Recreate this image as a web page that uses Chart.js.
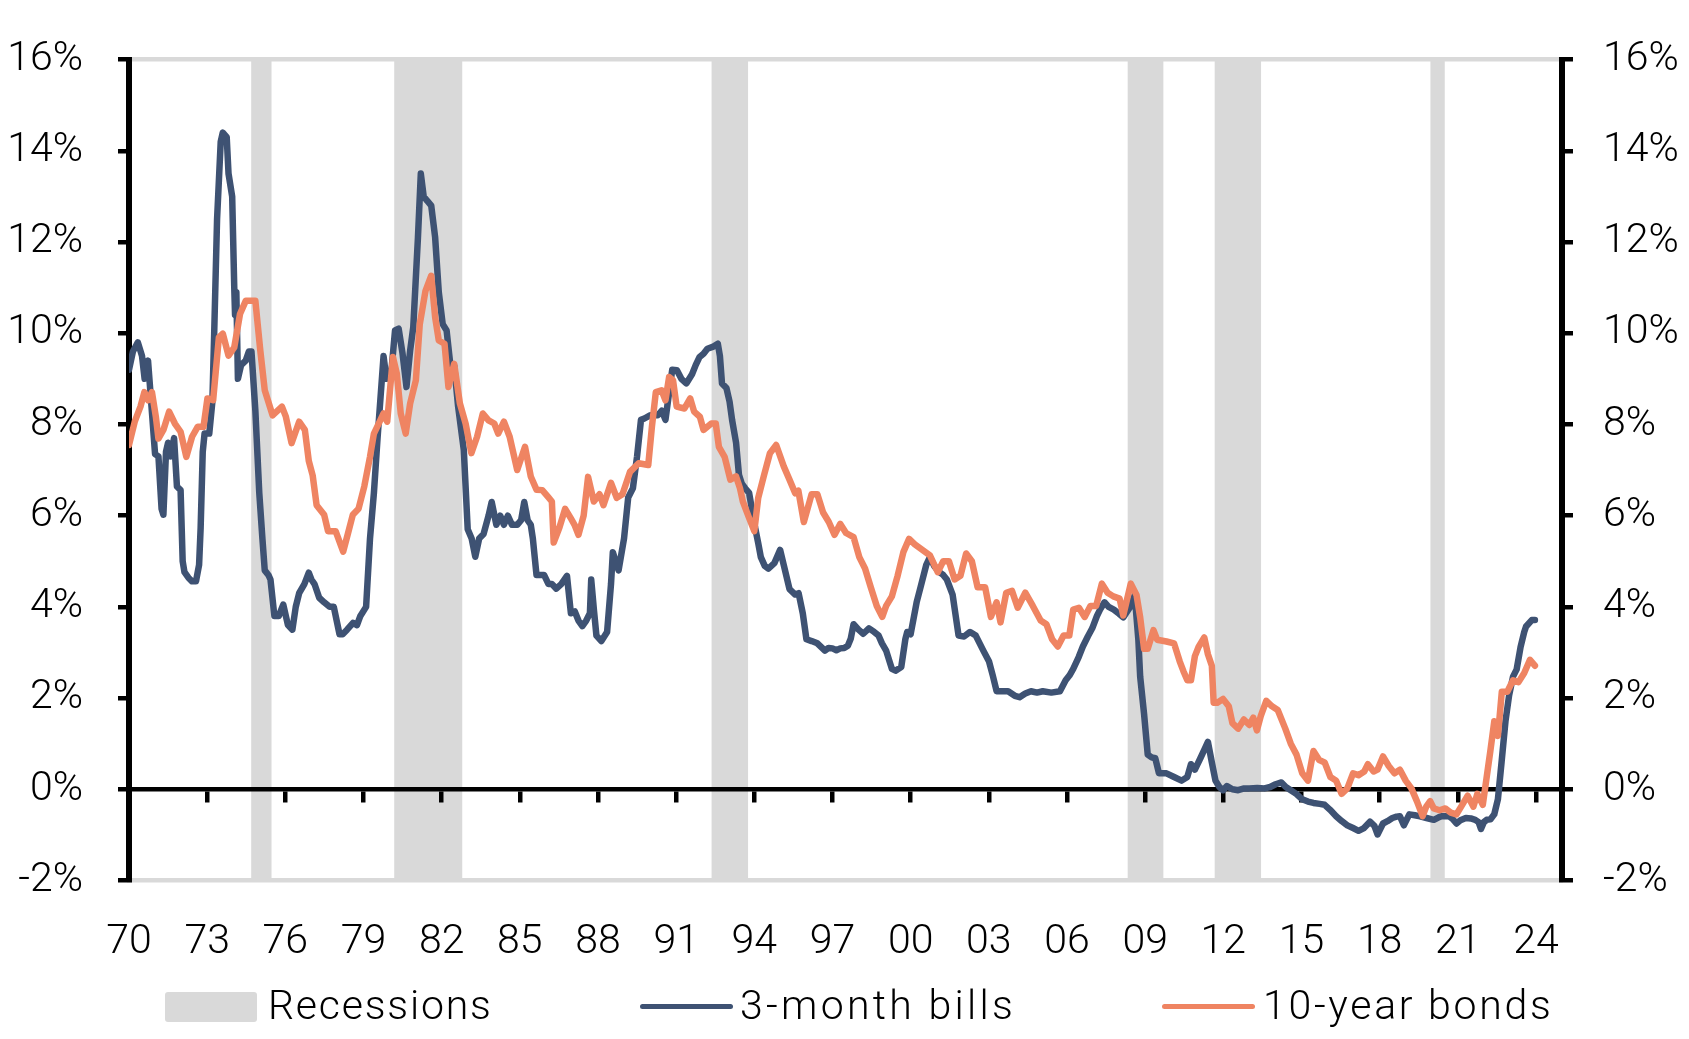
<!DOCTYPE html>
<html>
<head>
<meta charset="utf-8">
<title>3-month bills vs 10-year bonds</title>
<script src="https://cdn.jsdelivr.net/npm/chart.js@4.4.1/dist/chart.umd.min.js"></script>
<style>
  body { margin: 0; background: #fff; }
  #wrap { position: relative; width: 1689px; height: 1039px; font-family: Roboto, sans-serif; font-weight: 300; }
  #chart { position: absolute; left: 0; top: 0; }
  .key { position: absolute; }
  .key-box { top: 992px; width: 92px; height: 30px; border-radius: 3px; background: #d9d9d9; }
  .key-line { top: 1003.5px; width: 93px; height: 5px; border-radius: 2.5px; }
  .key-text { top: 985px; font-size: 41px; line-height: 41px; color: #000; white-space: nowrap; }
</style>
</head>
<body>
<div id="wrap">
  <canvas id="chart" width="1689" height="1039"></canvas>
  <div class="key key-box" style="left:165px"></div>
  <div class="key key-text" style="left:268px;letter-spacing:1.8px">Recessions</div>
  <div class="key key-line" style="left:640px;background:#3e5273"></div>
  <div class="key key-text" style="left:740px;letter-spacing:3.3px">3-month bills</div>
  <div class="key key-line" style="left:1162px;background:#ef8462"></div>
  <div class="key key-text" style="left:1263px;letter-spacing:2.7px">10-year bonds</div>
</div>
<script>
// recession periods (decimal years)
const recessionStarts = [1974.69, 1980.18, 1992.36, 2008.33, 2011.67, 2019.95];
const recessionEnds   = [1975.47, 1982.79, 1993.76, 2009.70, 2013.45, 2020.50];

// x-axis tick labels
const tickYears = [1970, 1973, 1976, 1979, 1982, 1985, 1988, 1991, 1994, 1997,
  2000, 2003, 2006, 2009, 2012, 2015, 2018, 2021, 2024];

// 3-month bills, %
const billsDates = [
  1970.0, 1970.15, 1970.34, 1970.5, 1970.6, 1970.73, 1970.85,
  1971.0, 1971.13, 1971.25, 1971.32, 1971.42, 1971.5, 1971.6, 1971.73, 1971.84, 1971.98,
  1972.06, 1972.13, 1972.28, 1972.42, 1972.57, 1972.69, 1972.75, 1972.83, 1972.9,
  1973.08, 1973.2, 1973.27, 1973.38, 1973.52, 1973.6, 1973.75, 1973.82, 1973.96,
  1974.04, 1974.07, 1974.12, 1974.18, 1974.3, 1974.48, 1974.6, 1974.7, 1974.85,
  1975.0, 1975.12, 1975.21, 1975.35, 1975.43, 1975.58, 1975.75, 1975.92,
  1976.1, 1976.27, 1976.4, 1976.53, 1976.73, 1976.9,
  1977.0, 1977.12, 1977.3, 1977.49, 1977.7, 1977.86,
  1978.08, 1978.2, 1978.37, 1978.6, 1978.75, 1978.88,
  1979.1, 1979.25, 1979.4, 1979.54, 1979.77, 1979.88,
  1980.06, 1980.21, 1980.35, 1980.5, 1980.65, 1980.79, 1980.91,
  1981.09, 1981.2, 1981.31, 1981.45, 1981.6, 1981.75, 1981.89,
  1982.04, 1982.19, 1982.33, 1982.48, 1982.63, 1982.85,
  1983.0, 1983.15, 1983.29, 1983.44, 1983.61, 1983.8, 1983.92,
  1984.1, 1984.25, 1984.39, 1984.54, 1984.7, 1984.9,
  1985.05, 1985.17, 1985.3, 1985.42, 1985.5, 1985.64, 1985.8, 1985.93,
  1986.1, 1986.23, 1986.4, 1986.59, 1986.81, 1986.96,
  1987.11, 1987.25, 1987.4, 1987.55, 1987.69, 1987.74, 1987.85, 1987.94,
  1988.13, 1988.35, 1988.5, 1988.57, 1988.79,
  1989.0, 1989.16, 1989.34, 1989.5, 1989.65, 1989.78,
  1990.0, 1990.29, 1990.45, 1990.59, 1990.73, 1990.85,
  1991.03, 1991.2, 1991.39, 1991.61, 1991.75, 1991.9,
  1992.05, 1992.2, 1992.4, 1992.6, 1992.68, 1992.76, 1992.93,
  1993.05, 1993.15, 1993.3, 1993.41, 1993.52, 1993.65, 1993.8,
  1994.03, 1994.15, 1994.25, 1994.4, 1994.54, 1994.77, 1994.99,
  1995.13, 1995.35, 1995.57, 1995.7, 1995.86,
  1996.0, 1996.2, 1996.42, 1996.6, 1996.71, 1996.85,
  1997.0, 1997.15, 1997.3, 1997.45, 1997.59, 1997.7, 1997.81,
  1998.0, 1998.18, 1998.4, 1998.6, 1998.77, 1998.9,
  1999.06, 1999.28, 1999.42, 1999.64, 1999.8, 1999.87,
  2000.0, 2000.23, 2000.38, 2000.6, 2000.74, 2000.9,
  2001.1, 2001.25, 2001.39, 2001.61, 2001.84,
  2002.05, 2002.28, 2002.5, 2002.79,
  2003.01, 2003.15, 2003.3, 2003.5, 2003.74,
  2004.0, 2004.18, 2004.4, 2004.62, 2004.85,
  2005.07, 2005.4, 2005.73, 2005.95,
  2006.1, 2006.24, 2006.45, 2006.61, 2006.8, 2006.97,
  2007.15, 2007.27, 2007.44, 2007.6, 2007.8,
  2008.0, 2008.16, 2008.45, 2008.6, 2008.74, 2008.81, 2008.96,
  2009.1, 2009.25, 2009.39, 2009.53, 2009.82,
  2010.11, 2010.4, 2010.62, 2010.76, 2010.91,
  2011.12, 2011.3, 2011.41, 2011.56, 2011.7, 2011.85, 2011.99,
  2012.14, 2012.35, 2012.57, 2012.8,
  2013.0, 2013.3, 2013.58, 2013.8,
  2014.01, 2014.23, 2014.4, 2014.59, 2014.8,
  2015.03, 2015.25, 2015.46, 2015.7, 2015.89,
  2016.1, 2016.33, 2016.55, 2016.76, 2016.98,
  2017.19, 2017.4, 2017.63, 2017.8, 2017.92,
  2018.13, 2018.3, 2018.49, 2018.65, 2018.78, 2018.93,
  2019.14, 2019.35, 2019.51, 2019.8,
  2020.08, 2020.25, 2020.37, 2020.66, 2020.8, 2020.95,
  2021.1, 2021.31, 2021.5, 2021.67, 2021.8, 2021.89,
  2022.0, 2022.11, 2022.25, 2022.4, 2022.54, 2022.68, 2022.83, 2022.97,
  2023.12, 2023.26, 2023.41, 2023.55, 2023.62, 2023.84, 2023.96
];
const billsRates = [
  9.2, 9.6, 9.8, 9.5, 9.0, 9.4, 8.5,
  7.35, 7.3, 6.15, 6.02, 7.4, 7.6, 7.3, 7.7, 6.64, 6.56,
  5.0, 4.76, 4.64, 4.56, 4.56, 4.92, 5.74, 7.4, 7.8,
  7.8, 8.5, 10.0, 12.5, 14.2, 14.4, 14.3, 13.5, 13.0,
  11.0, 10.4, 10.9, 9.0, 9.3, 9.4, 9.6, 9.6, 8.3,
  6.5, 5.5, 4.8, 4.7, 4.6, 3.8, 3.8, 4.05,
  3.6, 3.5, 4.0, 4.3, 4.5, 4.75,
  4.6, 4.5, 4.2, 4.1, 4.0, 4.0,
  3.4, 3.4, 3.5, 3.65, 3.6, 3.8,
  4.0, 5.5, 6.5, 7.7, 9.5, 9.0,
  9.1, 10.06, 10.1, 9.55, 8.82, 9.62, 10.13,
  12.1, 13.5, 13.0, 12.9, 12.8, 12.1, 10.9,
  10.2, 10.06, 9.33, 9.29, 8.4, 7.44,
  5.7, 5.5, 5.1, 5.5, 5.6, 6.0, 6.3,
  5.8, 6.0, 5.8, 6.0, 5.8, 5.8,
  5.9, 6.3, 5.9, 5.8, 5.5, 4.7, 4.7, 4.7,
  4.5, 4.5, 4.4, 4.5, 4.68, 3.86,
  3.9, 3.7, 3.58, 3.7, 3.86, 4.6, 3.9, 3.37,
  3.25, 3.45, 4.5, 5.2, 4.8,
  5.5, 6.4, 6.6, 7.3, 8.1, 8.13,
  8.2, 8.2, 8.3, 8.1, 8.7, 9.2,
  9.19, 9.0, 8.9, 9.1, 9.3, 9.48,
  9.55, 9.66, 9.7, 9.77, 9.5, 8.9, 8.8,
  8.5, 8.09, 7.6, 6.9, 6.7, 6.6, 6.5,
  5.74, 5.4, 5.09, 4.9, 4.84, 4.96, 5.25,
  4.92, 4.39, 4.27, 4.3, 3.86,
  3.29, 3.25, 3.2, 3.1, 3.04, 3.1,
  3.09, 3.05, 3.09, 3.1, 3.15, 3.3, 3.62,
  3.5, 3.41, 3.53, 3.45, 3.37, 3.2,
  3.04, 2.64, 2.6, 2.68, 3.3, 3.45,
  3.4, 4.1, 4.43, 4.92, 5.09, 4.9,
  4.76, 4.7, 4.6, 4.27, 3.37,
  3.35, 3.45, 3.37, 3.04,
  2.8, 2.5, 2.15, 2.15, 2.15,
  2.05, 2.02, 2.1, 2.15, 2.12,
  2.15, 2.12, 2.15, 2.39,
  2.5, 2.64, 2.9, 3.13, 3.35, 3.53,
  3.8, 3.94, 4.1, 4.0, 3.94,
  3.85, 3.77, 4.02, 4.26, 3.28, 2.47, 1.65,
  0.76, 0.7, 0.68, 0.35, 0.35,
  0.27, 0.19, 0.27, 0.55, 0.43,
  0.68, 0.9, 1.04, 0.59, 0.19, 0.05, -0.02,
  0.07, 0.0, -0.02, 0.02,
  0.02, 0.03, 0.02, 0.05,
  0.11, 0.15, 0.05, -0.02, -0.1,
  -0.22, -0.27, -0.3, -0.32, -0.34,
  -0.45, -0.59, -0.7, -0.79, -0.85,
  -0.91, -0.85, -0.71, -0.8, -0.99,
  -0.75, -0.7, -0.63, -0.6, -0.59, -0.79,
  -0.55, -0.57, -0.59, -0.63,
  -0.67, -0.62, -0.59, -0.59, -0.65, -0.75,
  -0.68, -0.63, -0.64, -0.67, -0.72, -0.87,
  -0.72, -0.67, -0.66, -0.55, -0.22, 0.59, 1.49, 2.06,
  2.47, 2.63, 3.12, 3.45, 3.57, 3.71, 3.71
];

// 10-year bonds, %
const bondsDates = [
  1970.0, 1970.22, 1970.44, 1970.59, 1970.73, 1970.88,
  1971.03, 1971.13, 1971.32, 1971.54, 1971.76, 1971.98,
  1972.2, 1972.42, 1972.64, 1972.86,
  1973.01, 1973.23, 1973.45, 1973.6, 1973.82,
  1974.04, 1974.26, 1974.48, 1974.85,
  1975.04, 1975.21, 1975.51, 1975.87,
  1976.02, 1976.24, 1976.53, 1976.75, 1976.9,
  1977.05, 1977.2, 1977.49, 1977.64, 1977.93,
  1978.22, 1978.4, 1978.59, 1978.81,
  1979.03, 1979.25, 1979.4, 1979.62, 1979.77, 1979.91,
  1980.13, 1980.28, 1980.43, 1980.62, 1980.79,
  1981.01, 1981.16, 1981.38, 1981.6, 1981.75, 1981.89,
  1982.11, 1982.26, 1982.48, 1982.7, 1982.92,
  1983.14, 1983.36, 1983.58, 1983.8,
  1984.02, 1984.17, 1984.39, 1984.61, 1984.9,
  1985.2, 1985.42, 1985.64, 1985.86,
  1986.1, 1986.23, 1986.3, 1986.52, 1986.74, 1986.96,
  1987.1, 1987.25, 1987.45, 1987.62, 1987.84,
  1988.06, 1988.21, 1988.5, 1988.72, 1988.94,
  1989.23, 1989.56, 1989.93,
  1990.07, 1990.22, 1990.44, 1990.59, 1990.73, 1990.88,
  1991.02, 1991.32, 1991.54, 1991.69, 1991.91,
  1992.05, 1992.35, 1992.52, 1992.64, 1992.86,
  1993.08, 1993.3, 1993.45, 1993.56, 1993.78,
  1994.0, 1994.15, 1994.37, 1994.6, 1994.84,
  1995.13, 1995.35, 1995.57, 1995.69, 1995.9,
  1996.2, 1996.42, 1996.64, 1996.86,
  1997.08, 1997.3, 1997.52, 1997.81,
  1998.03, 1998.25, 1998.47, 1998.7, 1998.91,
  1999.06, 1999.28, 1999.5, 1999.72, 1999.94,
  2000.16, 2000.45, 2000.74,
  2001.04, 2001.25, 2001.47, 2001.69, 2001.91,
  2002.13, 2002.35, 2002.57, 2002.86,
  2003.08, 2003.3, 2003.45, 2003.67, 2003.89,
  2004.11, 2004.4, 2004.69, 2004.99,
  2005.21, 2005.43, 2005.65, 2005.87,
  2006.09, 2006.24, 2006.46, 2006.68, 2006.9,
  2007.12, 2007.34, 2007.56, 2007.78,
  2008.02, 2008.16, 2008.45, 2008.67, 2008.81, 2008.96,
  2009.1, 2009.32, 2009.46, 2009.82,
  2010.11, 2010.33, 2010.47, 2010.62, 2010.76, 2010.91,
  2011.05, 2011.27, 2011.41, 2011.56, 2011.63, 2011.77, 2011.99,
  2012.21, 2012.35, 2012.57, 2012.79,
  2013.0, 2013.15, 2013.29, 2013.44, 2013.65, 2013.87,
  2014.09, 2014.38, 2014.59, 2014.81,
  2015.03, 2015.25, 2015.46, 2015.68, 2015.89,
  2016.11, 2016.33, 2016.54, 2016.76, 2016.98,
  2017.19, 2017.41, 2017.55, 2017.77, 2017.92,
  2018.13, 2018.35, 2018.57, 2018.78,
  2019.0, 2019.22, 2019.43, 2019.65, 2019.79, 2019.94,
  2020.08, 2020.3, 2020.52, 2020.73, 2020.95,
  2021.17, 2021.38, 2021.6, 2021.75, 2021.96,
  2022.11, 2022.25, 2022.4, 2022.54, 2022.69, 2022.9,
  2023.12, 2023.33, 2023.55, 2023.77, 2023.96
];
const bondsRates = [
  7.55, 8.06, 8.39, 8.71, 8.53, 8.71,
  8.17, 7.69, 7.88, 8.28, 8.02, 7.84,
  7.29, 7.73, 7.95, 7.95,
  8.57, 8.53, 9.91, 9.99, 9.51,
  9.69, 10.42, 10.71, 10.71,
  9.62, 8.75, 8.2, 8.39,
  8.17, 7.59, 8.06, 7.88, 7.2,
  6.88, 6.23, 6.02, 5.66, 5.66,
  5.21, 5.6, 6.02, 6.15,
  6.64, 7.29, 7.8, 8.06, 8.24, 8.06,
  9.48, 9.11, 8.24, 7.8, 8.46,
  8.97, 10.2, 10.93, 11.26, 10.35, 9.84,
  9.77, 8.82, 9.33, 8.46, 8.02,
  7.37, 7.73, 8.24, 8.09,
  8.02, 7.8, 8.06, 7.73, 7.0,
  7.51, 6.86, 6.57, 6.56,
  6.4, 6.31, 5.41, 5.74, 6.15, 5.94,
  5.8, 5.58, 6.0, 6.85, 6.31,
  6.47, 6.23, 6.72, 6.39, 6.47,
  6.96, 7.15, 7.11,
  7.95, 8.71, 8.75, 8.53, 9.04, 8.97,
  8.39, 8.35, 8.57, 8.28, 8.17,
  7.88, 8.02, 8.02, 7.51, 7.29,
  6.79, 6.86, 6.6, 6.31, 5.98,
  5.66, 6.39, 6.88, 7.37, 7.55,
  7.08, 6.79, 6.49, 6.55, 5.86,
  6.47, 6.47, 6.07, 5.86,
  5.58, 5.82, 5.62, 5.53,
  5.09, 4.84, 4.43, 4.02, 3.78,
  4.02, 4.23, 4.68, 5.2, 5.49,
  5.37, 5.25, 5.13,
  4.76, 5.0, 5.0, 4.6, 4.68,
  5.17, 5.0, 4.43, 4.43,
  3.78, 4.1, 3.66, 4.31, 4.35,
  3.98, 4.31, 4.02, 3.7,
  3.62, 3.29, 3.13, 3.37,
  3.37, 3.94, 3.98, 3.78, 4.02,
  4.02, 4.51, 4.31, 4.23,
  4.18, 3.81, 4.51, 4.26, 3.77, 3.08,
  3.08, 3.49, 3.28, 3.24,
  3.2, 2.8, 2.59, 2.39, 2.39, 2.92,
  3.12, 3.33, 2.96, 2.71, 1.9, 1.9, 1.98,
  1.82, 1.45, 1.33, 1.53,
  1.41, 1.57, 1.29, 1.61, 1.94, 1.82,
  1.74, 1.33, 1.0, 0.76,
  0.35, 0.19, 0.84, 0.64, 0.59,
  0.27, 0.19, -0.1, 0.02, 0.35,
  0.31, 0.39, 0.55, 0.39, 0.43,
  0.72, 0.51, 0.35, 0.43,
  0.19, 0.02, -0.26, -0.59, -0.38, -0.26,
  -0.42, -0.46, -0.42, -0.51, -0.55,
  -0.34, -0.14, -0.38, -0.1, -0.34,
  0.27, 0.84, 1.49, 1.17, 2.14, 2.14,
  2.39, 2.35, 2.55, 2.84, 2.71
];

const NAVY = '#3e5273';
const ORANGE = '#ef8462';
const GREY = '#d9d9d9';

Chart.defaults.font.family = 'Roboto, sans-serif';
Chart.defaults.font.weight = '300';
Chart.defaults.font.size = 41;
Chart.defaults.color = '#000';

// grey recession bands, drawn under the axes and lines
const recessionBands = {
  id: 'recessionBands',
  beforeDraw(chart) {
    const { ctx, scales: { x, y } } = chart;
    const top = y.getPixelForValue(16);
    const bottom = y.getPixelForValue(-2);
    ctx.save();
    ctx.fillStyle = GREY;
    recessionStarts.forEach((start, i) => {
      const x0 = x.getPixelForValue(start);
      const x1 = x.getPixelForValue(recessionEnds[i]);
      ctx.fillRect(x0, top, x1 - x0, bottom - top);
    });
    ctx.restore();
  }
};

const toPoints = (dates, rates) => dates.map((d, i) => ({ x: d, y: rates[i] }));
const setYearTicks = scale => { scale.ticks = tickYears.map(v => ({ value: v })); };

const yAxis = (position, padding, width) => ({
  position: position,
  min: -2,
  max: 16,
  afterFit: scale => { scale.width = width; },
  ticks: { stepSize: 2, padding: padding, callback: v => v + '%' },
  grid: { drawOnChartArea: false, drawTicks: true, tickLength: 11, color: '#000', lineWidth: 4.5 },
  border: { display: true, color: '#000', width: 6 }
});

new Chart(document.getElementById('chart'), {
  type: 'line',
  data: {
    datasets: [
      {
        label: '3-month bills',
        data: toPoints(billsDates, billsRates),
        borderColor: NAVY,
        backgroundColor: NAVY,
        borderWidth: 6.5,
        pointRadius: 0,
        tension: 0,
        borderJoinStyle: 'round',
        borderCapStyle: 'round',
        order: 2
      },
      {
        label: '10-year bonds',
        data: toPoints(bondsDates, bondsRates),
        borderColor: ORANGE,
        backgroundColor: ORANGE,
        borderWidth: 6.5,
        pointRadius: 0,
        tension: 0,
        borderJoinStyle: 'round',
        borderCapStyle: 'round',
        order: 1
      }
    ]
  },
  options: {
    responsive: false,
    devicePixelRatio: 1,
    animation: false,
    layout: { padding: { top: 53, right: 0, bottom: 28.5, left: 0 } },
    plugins: {
      legend: { display: false },
      tooltip: { enabled: false }
    },
    scales: {
      x: {
        type: 'linear',
        position: 'bottom',
        min: 1970,
        max: 2025,
        afterBuildTicks: setYearTicks,
        afterFit: scale => { scale.height = 130; },
        grid: { display: false, drawTicks: false },
        border: { display: true, color: GREY, width: 4.5 },
        ticks: { padding: 38, maxRotation: 0, autoSkip: false, callback: v => String(v).slice(2) }
      },
      xZero: {
        type: 'linear',
        position: { y: 0 },
        min: 1970,
        max: 2025,
        afterBuildTicks: setYearTicks,
        grid: { display: true, drawOnChartArea: false, drawTicks: true, tickLength: 11, color: '#000', lineWidth: 4.5 },
        border: { display: true, color: '#000', width: 4.5 },
        ticks: { display: false }
      },
      xTop: {
        type: 'linear',
        position: { y: 16 },
        min: 1970,
        max: 2025,
        grid: { display: false },
        border: { display: true, color: GREY, width: 4.5 },
        ticks: { display: false }
      },
      y: yAxis('left', 35, 129),
      y2: yAxis('right', 30, 127)
    }
  },
  plugins: [recessionBands]
});
</script>
</body>
</html>
